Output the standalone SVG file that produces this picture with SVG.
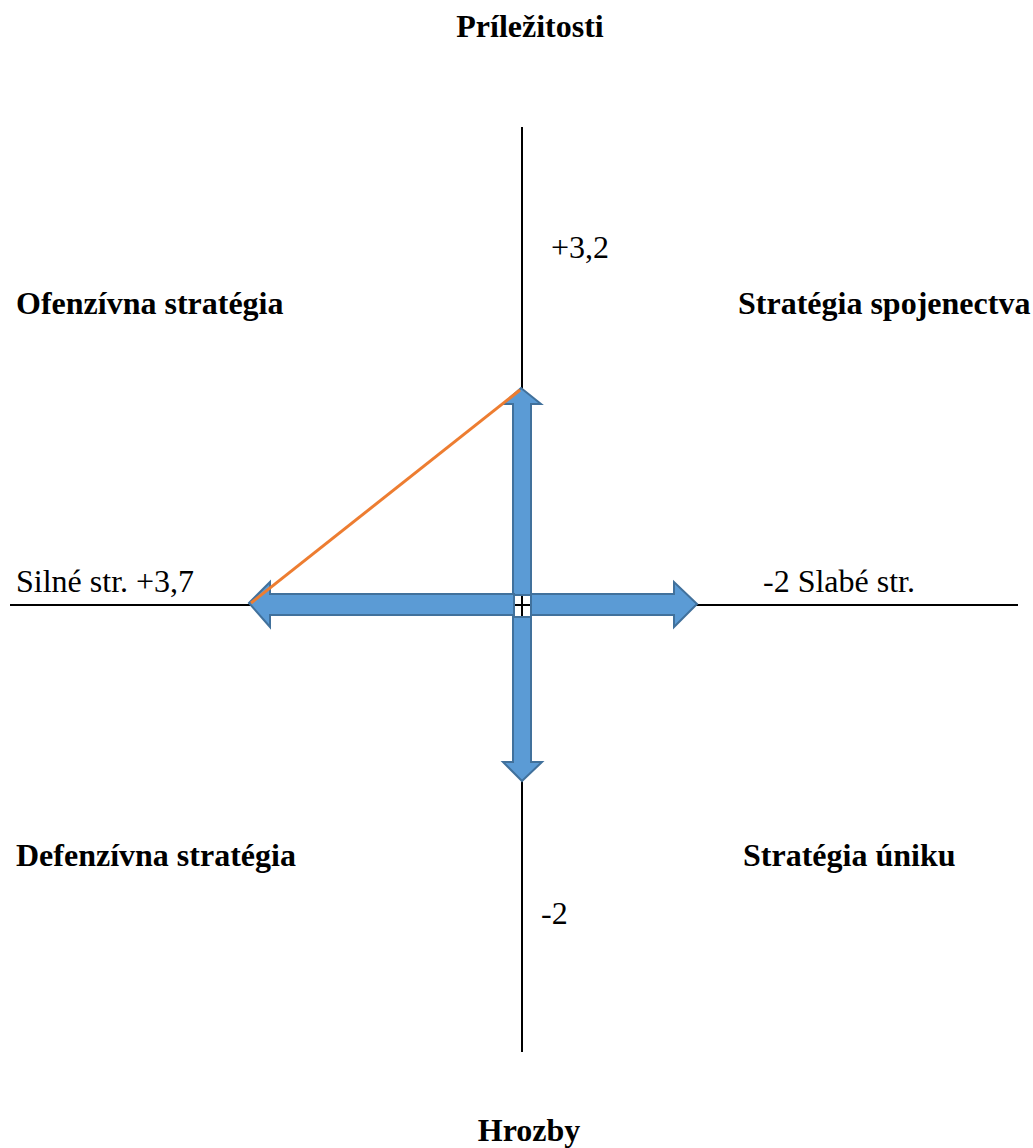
<svg xmlns="http://www.w3.org/2000/svg" width="1033" height="1148" viewBox="0 0 1033 1148">
<style>
.t{font-family:"Liberation Serif","Times New Roman",serif;font-size:32px;fill:#000}
.b{font-weight:bold}
.ax{stroke:#000;stroke-width:2;fill:none}
.arr{fill:#5B9BD5;stroke:#41719C;stroke-width:2;stroke-linejoin:miter}
</style>
<rect width="1033" height="1148" fill="#fff"/>
<g id="axes">
<line class="ax" x1="522" y1="127" x2="522" y2="1052"/>
<line class="ax" x1="10" y1="605" x2="1018" y2="605"/>
</g>
<g id="arrows">
<polygon id="arrow-up" class="arr" points="521,388 541,404 531,404 531,595 513,595 513,404 503,404"/>
<polygon id="arrow-down" class="arr" points="522,781 542,762 531,762 531,617 513,617 513,762 503,762"/>
<polygon id="arrow-left" class="arr" points="249,603 270,582 270,594 514,594 514,615 270,615 270,627"/>
<polygon id="arrow-right" class="arr" points="697,604 674,582 674,594 531,594 531,615 674,615 674,627"/>
</g>
<g id="connectors">
<line x1="520" y1="390" x2="251" y2="603" stroke="#ED7D31" stroke-width="3"/>
</g>
<g id="labels">
<text class="t b" x="530" y="37" text-anchor="middle">Príležitosti</text>
<text class="t" x="551" y="258">+3,2</text>
<text class="t b" x="16" y="314">Ofenzívna stratégia</text>
<text class="t b" x="738" y="314">Stratégia spojenectva</text>
<text class="t" x="16" y="592">Silné str. +3,7</text>
<text class="t" x="763" y="592">-2 Slabé str.</text>
<text class="t b" x="16" y="866">Defenzívna stratégia</text>
<text class="t b" x="743" y="866">Stratégia úniku</text>
<text class="t" x="541" y="924">-2</text>
<text class="t b" x="529" y="1141" text-anchor="middle">Hrozby</text>
</g>
</svg>
